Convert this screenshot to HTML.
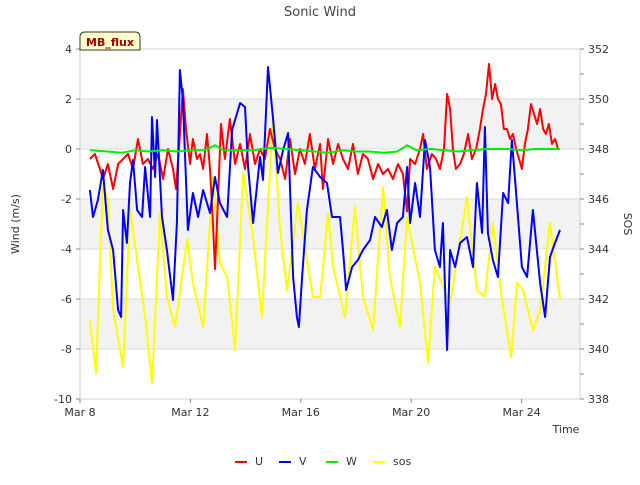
<!DOCTYPE html>
<html><head><meta charset="utf-8"><style>
body{margin:0;background:#fff;font-family:"Liberation Sans",sans-serif;}
svg text{font-family:"DejaVu Sans","Liberation Sans",sans-serif;}
</style></head><body>
<svg id="chart" width="640" height="480" xmlns="http://www.w3.org/2000/svg"></svg>
<script>
const uDays=[8.36,8.54,8.72,8.83,9.01,9.20,9.38,9.56,9.74,9.92,10.10,10.28,10.46,10.64,10.83,11.01,11.19,11.37,11.48,11.62,11.73,11.84,11.99,12.09,12.24,12.35,12.46,12.60,12.71,12.82,12.89,13.00,13.11,13.25,13.43,13.62,13.80,13.98,14.16,14.34,14.52,14.70,14.88,15.07,15.25,15.43,15.61,15.79,15.97,16.15,16.33,16.51,16.70,16.80,16.99,17.17,17.35,17.53,17.71,17.89,18.07,18.25,18.43,18.62,18.80,18.98,19.16,19.34,19.52,19.70,19.85,19.96,20.14,20.32,20.43,20.57,20.75,20.90,21.04,21.19,21.30,21.41,21.51,21.62,21.77,21.91,22.06,22.20,22.35,22.49,22.60,22.71,22.82,22.93,23.04,23.14,23.25,23.36,23.47,23.58,23.69,23.80,23.91,24.01,24.12,24.23,24.34,24.45,24.56,24.67,24.78,24.88,24.99,25.10,25.21,25.32,25.39];
const uVals=[-0.4,-0.2,-0.8,-1.2,-0.6,-1.6,-0.6,-0.4,-0.2,-0.8,0.4,-0.6,-0.4,-0.8,-0.2,-1.2,0.0,-0.8,-1.6,0.6,2.4,0.8,-0.6,0.4,-0.4,-0.2,-0.8,0.6,-0.8,-3.0,-4.8,-2.0,1.0,-0.4,1.2,-0.6,0.2,-0.8,0.6,-0.6,0.0,-0.4,0.8,0.0,-0.4,-1.2,0.4,-1.0,0.0,-0.6,0.6,-0.8,0.2,-1.6,0.4,-0.6,0.2,-0.4,-0.8,0.2,-1.0,-0.2,-0.4,-1.2,-0.6,-1.0,-0.8,-1.2,-0.6,-1.0,-2.5,-0.4,-0.6,0.0,0.6,-0.8,-0.2,-0.4,-0.8,0.0,2.2,1.6,0.0,-0.8,-0.6,-0.2,0.6,-0.4,0.0,0.8,1.6,2.2,3.4,2.0,2.6,2.0,1.8,0.8,0.8,0.4,0.6,0.0,-0.4,-0.8,0.2,0.8,1.8,1.4,1.0,1.6,0.8,0.6,1.0,0.2,0.4,0.0,0.0];
const vDays=[8.36,8.47,8.65,8.83,9.01,9.20,9.38,9.49,9.56,9.70,9.81,9.92,10.07,10.25,10.36,10.54,10.61,10.72,10.79,10.97,11.15,11.37,11.51,11.62,11.73,11.91,12.09,12.28,12.46,12.71,12.89,13.07,13.33,13.51,13.80,13.98,14.09,14.27,14.52,14.63,14.81,14.99,15.17,15.36,15.54,15.72,15.86,15.93,16.04,16.22,16.44,16.70,16.95,17.13,17.42,17.53,17.64,17.86,18.07,18.25,18.51,18.69,18.94,19.12,19.30,19.49,19.70,19.85,19.96,20.14,20.32,20.50,20.68,20.86,21.04,21.15,21.30,21.41,21.59,21.77,22.02,22.24,22.38,22.57,22.67,22.78,22.96,23.14,23.33,23.51,23.65,23.83,24.01,24.20,24.41,24.67,24.85,25.03,25.21,25.39];
const vVals=[-1.64,-2.72,-2.04,-0.84,-3.24,-4.04,-6.44,-6.72,-2.44,-3.76,-1.36,-0.44,-2.44,-2.72,-0.72,-2.72,1.28,-1.12,1.16,-2.72,-4.04,-6.04,-2.96,3.16,1.96,-3.24,-1.76,-2.72,-1.64,-2.56,-1.12,-2.16,-2.72,0.76,1.84,1.68,-0.72,-2.96,-0.32,-1.24,3.28,1.28,-0.96,-0.04,0.64,-5.12,-6.72,-7.12,-5.24,-2.44,-0.72,-1.12,-1.36,-2.72,-2.72,-4.04,-5.64,-4.72,-4.44,-4.04,-3.64,-2.72,-3.12,-2.44,-4.04,-2.96,-2.72,-0.72,-2.96,-1.36,-2.72,0.36,-0.72,-4.04,-4.72,-2.96,-8.04,-4.04,-4.72,-3.76,-3.52,-4.72,-1.36,-3.36,0.88,-3.36,-4.44,-5.12,-1.76,-2.16,0.36,-2.16,-4.72,-5.12,-2.44,-5.36,-6.72,-4.32,-3.76,-3.24];
const wDays=[8.36,9,9.5,10,10.5,11,11.5,12,12.5,12.9,13.2,13.8,14.3,14.9,15.5,16,16.5,17,17.5,18,18.5,19,19.5,19.85,20.2,20.7,21.2,21.7,22.2,22.8,23.5,24.0,24.5,25.0,25.39];
const wVals=[-0.05,-0.1,-0.15,-0.05,-0.1,-0.05,-0.1,-0.05,-0.05,0.15,-0.05,-0.05,-0.05,0.05,0.0,-0.05,-0.1,-0.15,-0.05,-0.1,-0.1,-0.15,-0.1,0.15,-0.05,0.0,-0.05,-0.1,-0.05,0.0,0.0,-0.05,0.0,0.0,0.0];
const sosDays=[8.36,8.58,8.83,9.01,9.20,9.56,9.81,10.07,10.36,10.61,10.90,11.15,11.44,11.88,12.09,12.46,12.82,13.07,13.33,13.62,13.91,14.27,14.59,14.99,15.25,15.50,15.90,16.44,16.70,16.99,17.17,17.60,17.96,18.25,18.62,18.98,19.23,19.59,19.85,20.32,20.61,20.86,21.41,22.02,22.38,22.67,22.96,23.29,23.62,23.83,24.05,24.41,24.67,25.03,25.39];
const sosVals=[341.16,339.04,346.64,345.96,341.56,339.28,345.56,343.56,341.28,338.64,345.44,342.08,340.88,344.36,342.64,340.88,346.88,343.44,342.88,339.96,347.04,344.48,341.28,349.28,344.76,342.36,345.84,342.08,342.08,345.44,343.28,341.28,345.68,342.08,340.76,346.48,342.88,340.88,345.28,342.64,339.44,343.28,341.84,346.08,342.36,342.08,345.04,341.96,339.68,342.64,342.36,340.76,341.56,345.04,341.96];
const leftTicks=[4,2,0,-2,-4,-6,-8,-10];
const rightTicks=[352,350,348,346,344,342,340,338];
const xTickDays=[8,12,16,20,24];
const xTickLabels=["Mar 8","Mar 12","Mar 16","Mar 20","Mar 24"];

const NS="http://www.w3.org/2000/svg";
const svg=document.getElementById('chart');
const L=80,R=580,T=49,B=399;
const xS=d=>L+(d-8)*27.6;
const yL=v=>T+(4-v)*(B-T)/14;
const yR=s=>T+(352-s)*(B-T)/14;
function mk(tag,attrs,parent){const e=document.createElementNS(NS,tag);for(const k in attrs)e.setAttribute(k,attrs[k]);(parent||svg).appendChild(e);return e;}

// bands
[[2,0],[-2,-4],[-6,-8]].forEach(b=>{
  const r=mk('rect',{x:L,y:yL(b[0]),width:R-L,height:yL(b[1])-yL(b[0]),fill:'#f2f2f2'});
  
  
});
leftTicks.forEach(v=>{
  const g=mk('line',{x1:L,x2:R,y1:yL(v),y2:yL(v),stroke:'#dcdcdc','stroke-width':1});
  
  
});
const frame=mk('rect',{x:L,y:T,width:R-L,height:B-T,fill:'none',stroke:'#d0d0d0'});



// left ticks
leftTicks.forEach(v=>{
  mk('line',{x1:L-4,x2:L,y1:yL(v),y2:yL(v),stroke:'#888'});
  const t=mk('text',{x:L-8,y:yL(v)+4,'text-anchor':'end','font-size':11,fill:'#333'});
  t.textContent=v;
  
  
});
// right ticks
for(let s=338;s<=352;s++){mk('line',{x1:R,x2:R+4,y1:yR(s),y2:yR(s),stroke:'#888'});}
rightTicks.forEach(s=>{
  const t=mk('text',{x:R+8,y:yR(s)+4,'font-size':11,fill:'#333'});
  t.textContent=s;
  
  
});
// x ticks
xTickDays.forEach((d,i)=>{
  mk('line',{x1:xS(d),x2:xS(d),y1:B,y2:B+4,stroke:'#888'});
  const t=mk('text',{x:xS(d),y:B+17,'text-anchor':'middle','font-size':11,fill:'#333'});
  t.textContent=xTickLabels[i];
  
  
});

function series(days,vals,ys,color,name){
  const pts=days.map((d,i)=>xS(d).toFixed(1)+','+ys(vals[i]).toFixed(1)).join(' ');
  const p=mk('polyline',{points:pts,fill:'none',stroke:color,'stroke-width':2,'stroke-linejoin':'round'});
  
  
}
series(sosDays,sosVals,yR,'#ffff00','sos-line');
series(uDays,uVals,yL,'#ff0000','u-line');
series(vDays,vVals,yL,'#0000ff','v-line');
series(wDays,wVals,yL,'#00ee00','w-line');

function txt(x,y,s,attrs,name){const t=mk('text',Object.assign({x:x,y:y},attrs));t.textContent=s;return t;}
txt(320,16,'Sonic Wind',{'text-anchor':'middle','font-size':13,fill:'#444'},'chart-title');
txt(566,433,'Time',{'text-anchor':'middle','font-size':11,fill:'#333'},'x-axis-title');
txt(19,224,'Wind (m/s)',{'text-anchor':'middle','font-size':11,fill:'#333',transform:'rotate(-90 19 224)'},'y-left-axis-title');
txt(624,224,'SOS',{'text-anchor':'middle','font-size':11,fill:'#333',transform:'rotate(90 624 224)'},'y-right-axis-title');

// MB_flux tag
const tag=mk('path',{d:'M80,50 L80,37 Q80,32 85,32 L135,32 Q140,32 140,37 L140,50 Z',fill:'#ffffc8',stroke:'#333'});


txt(110,46,'MB_flux',{'text-anchor':'middle','font-size':11,'font-weight':'bold',fill:'#990000'},'site-label');

// legend
const leg=[['U','#ff0000',235],['V','#0000ff',279],['W','#00ee00',326],['sos','#ffff00',373]];
leg.forEach(l=>{
  const ln=mk('line',{x1:l[2],x2:l[2]+12,y1:462,y2:462,stroke:l[1],'stroke-width':2});
  
  
  txt(l[2]+20,465,l[0],{'font-size':11,fill:'#333'},'legend-entry-'+l[0].toLowerCase());
});
</script>
</body></html>
